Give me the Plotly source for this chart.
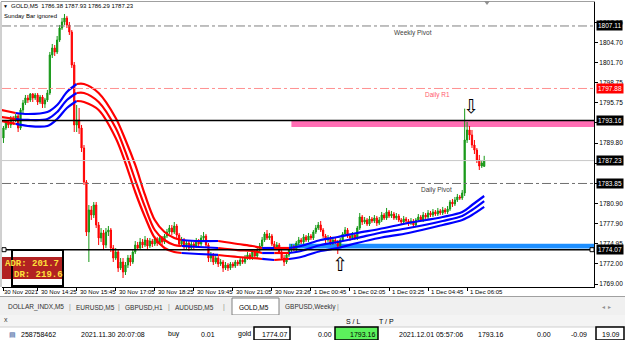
import plotly.graph_objects as go

W, H = 625, 340
def px(x): return x / W
def py(y): return 1 - y / H

FONT = "Liberation Sans, Arial"

# ---------------- data ----------------
bars = list(range(198))
opens = [1790.57,1792.04,1792.93,1792.49,1793.52,1793.08,1793.82,1792.04,1794.70,1795.74,
1796.48,1796.18,1797.07,1796.48,1796.92,1795.88,1796.62,1795.59,1796.18,1797.21,
1802.83,1803.86,1803.27,1805.04,1806.81,1807.70,1808.29,1807.26,1806.22,1801.35,
1792.49,1793.23,1792.04,1789.09,1784.07,1776.68,1779.93,1779.19,1780.67,1777.72,
1775.80,1776.54,1774.76,1776.68,1776.98,1774.32,1772.84,1773.73,1771.37,1772.25,
1770.78,1771.81,1772.84,1772.25,1773.73,1774.76,1774.32,1775.21,1774.76,1775.50,
1774.62,1775.35,1774.91,1775.65,1775.06,1775.80,1775.21,1776.09,1776.68,1777.27,
1776.68,1777.57,1776.24,1774.91,1775.50,1774.47,1775.06,1774.32,1774.91,1774.62,
1775.35,1774.91,1775.80,1776.09,1774.76,1772.84,1773.29,1772.25,1772.84,1771.96,
1772.25,1771.37,1771.81,1771.37,1771.96,1771.66,1772.25,1771.96,1772.55,1772.25,
1772.84,1773.29,1772.84,1773.73,1773.14,1774.02,1774.62,1775.50,1776.39,1775.80,
1776.09,1774.91,1774.32,1774.76,1773.73,1772.84,1772.25,1773.29,1774.02,1774.47,
1774.17,1775.06,1775.50,1775.21,1775.95,1775.50,1776.09,1775.80,1776.68,1777.27,
1777.72,1776.98,1776.09,1775.50,1775.80,1775.06,1775.50,1775.21,1774.62,1775.50,
1776.39,1776.98,1776.09,1775.80,1776.24,1775.80,1777.27,1778.90,1778.16,1778.46,
1777.87,1778.60,1778.31,1778.75,1778.01,1778.46,1779.19,1778.75,1779.64,1779.05,
1779.34,1778.75,1779.05,1778.46,1778.16,1778.60,1778.31,1778.01,1778.31,1777.72,
1778.46,1778.90,1778.46,1779.19,1778.90,1779.49,1779.19,1779.64,1779.34,1779.79,
1779.49,1779.93,1779.64,1780.08,1781.11,1780.82,1781.41,1781.85,1781.71,1782.44,
1790.27,1791.75,1791.01,1789.53,1788.79,1787.32,1786.43,1786.38]
highs = [1792.34,1793.23,1793.23,1793.82,1793.82,1794.11,1794.11,1795.00,1796.18,1796.92,
1796.92,1797.21,1797.21,1797.21,1797.21,1796.92,1796.92,1796.48,1797.66,1803.27,
1804.45,1804.30,1805.63,1807.26,1808.29,1808.88,1808.59,1807.70,1806.52,1801.79,
1795.44,1795.00,1792.49,1789.53,1784.36,1780.67,1780.52,1781.11,1781.11,1778.16,
1777.27,1776.98,1777.27,1777.57,1777.27,1774.76,1774.32,1774.02,1772.84,1772.84,
1772.25,1773.29,1773.29,1774.02,1775.35,1775.21,1775.80,1775.65,1776.09,1775.80,
1775.80,1775.65,1776.09,1775.95,1776.24,1776.09,1776.39,1777.13,1777.72,1777.72,
1778.16,1777.87,1776.54,1775.95,1775.80,1775.50,1775.35,1775.35,1775.21,1775.80,
1775.65,1776.24,1776.68,1776.39,1775.06,1773.73,1773.58,1773.29,1773.14,1772.70,
1772.55,1772.25,1772.10,1772.25,1772.25,1772.55,1772.55,1772.99,1772.84,1773.29,
1773.73,1773.58,1774.02,1774.02,1774.32,1775.06,1775.95,1776.68,1776.98,1776.54,
1776.39,1775.35,1775.21,1775.06,1774.02,1773.29,1773.73,1774.32,1774.91,1774.76,
1775.35,1775.95,1775.80,1776.39,1776.24,1776.54,1776.39,1776.98,1777.72,1778.16,
1778.31,1777.27,1776.39,1776.24,1776.09,1775.95,1775.80,1775.50,1775.80,1776.68,
1777.42,1777.27,1776.39,1776.68,1776.54,1777.57,1779.49,1779.19,1778.90,1778.75,
1779.05,1778.90,1779.19,1779.05,1778.90,1779.64,1779.49,1780.23,1779.93,1779.79,
1779.64,1779.49,1779.34,1778.75,1779.05,1778.90,1778.60,1778.75,1778.60,1778.75,
1779.34,1779.19,1779.64,1779.49,1779.93,1779.79,1780.08,1779.93,1780.23,1780.08,
1780.38,1780.23,1780.52,1781.41,1781.56,1781.85,1782.30,1782.15,1782.89,1794.90,
1792.93,1792.34,1791.75,1790.27,1789.09,1788.06,1787.32,1787.93]
lows = [1789.83,1791.75,1792.04,1792.04,1792.49,1792.93,1791.45,1791.75,1794.11,1795.44,
1795.74,1795.88,1795.88,1796.18,1795.44,1795.59,1795.00,1795.00,1795.88,1796.92,
1802.38,1802.68,1802.97,1804.75,1806.52,1807.26,1806.81,1805.78,1800.91,1791.45,
1791.45,1791.16,1788.50,1783.63,1776.09,1772.25,1778.46,1778.75,1777.27,1774.76,
1775.21,1774.02,1774.32,1776.09,1773.73,1772.25,1772.55,1770.78,1771.07,1769.89,
1770.33,1771.37,1771.66,1771.96,1773.43,1774.02,1774.02,1774.32,1774.47,1774.17,
1774.32,1774.47,1774.62,1774.62,1774.76,1774.76,1774.91,1775.80,1776.39,1776.24,
1776.39,1775.80,1774.47,1774.62,1774.02,1774.17,1773.88,1774.02,1774.17,1774.32,
1774.47,1774.62,1775.50,1774.32,1772.25,1772.25,1771.81,1771.96,1771.51,1771.66,
1770.78,1771.07,1770.92,1771.07,1771.37,1771.37,1771.66,1771.66,1771.96,1771.96,
1772.55,1772.55,1772.55,1772.84,1772.84,1773.73,1774.32,1775.21,1775.50,1775.50,
1774.62,1774.02,1774.02,1773.43,1772.55,1771.66,1771.96,1772.99,1773.73,1773.88,
1773.88,1774.76,1774.91,1774.91,1775.21,1775.21,1775.50,1775.50,1776.39,1776.98,
1776.68,1775.80,1775.06,1775.21,1774.76,1774.76,1774.91,1773.43,1774.32,1775.21,
1776.09,1775.80,1775.35,1775.50,1775.50,1775.50,1776.98,1777.72,1777.87,1777.57,
1777.57,1778.01,1778.01,1777.57,1777.72,1778.16,1778.46,1778.46,1778.75,1778.75,
1778.46,1778.46,1778.16,1777.72,1777.87,1778.01,1777.57,1777.72,1777.27,1777.42,
1778.16,1778.16,1778.16,1778.60,1778.60,1778.90,1778.90,1779.05,1779.05,1779.19,
1779.19,1779.34,1779.34,1779.79,1780.38,1780.52,1781.11,1781.41,1781.41,1782.00,
1789.83,1790.27,1789.09,1788.20,1786.87,1785.84,1786.14,1786.29]
closes = [1792.04,1792.93,1792.49,1793.52,1793.08,1793.82,1792.04,1794.70,1795.74,1796.48,
1796.18,1797.07,1796.48,1796.92,1795.88,1796.62,1795.59,1796.18,1797.21,1802.83,
1803.86,1803.27,1805.04,1806.81,1807.70,1808.29,1807.26,1806.22,1801.35,1792.49,
1793.23,1792.04,1789.09,1784.07,1776.68,1779.93,1779.19,1780.67,1777.72,1775.80,
1776.54,1774.76,1776.68,1776.98,1774.32,1772.84,1773.73,1771.37,1772.25,1770.78,
1771.81,1772.84,1772.25,1773.73,1774.76,1774.32,1775.21,1774.76,1775.50,1774.62,
1775.35,1774.91,1775.65,1775.06,1775.80,1775.21,1776.09,1776.68,1777.27,1776.68,
1777.57,1776.24,1774.91,1775.50,1774.47,1775.06,1774.32,1774.91,1774.62,1775.35,
1774.91,1775.80,1776.09,1774.76,1772.84,1773.29,1772.25,1772.84,1771.96,1772.25,
1771.37,1771.81,1771.37,1771.96,1771.66,1772.25,1771.96,1772.55,1772.25,1772.84,
1773.29,1772.84,1773.73,1773.14,1774.02,1774.62,1775.50,1776.39,1775.80,1776.09,
1774.91,1774.32,1774.76,1773.73,1772.84,1772.25,1773.29,1774.02,1774.47,1774.17,
1775.06,1775.50,1775.21,1775.95,1775.50,1776.09,1775.80,1776.68,1777.27,1777.72,
1776.98,1776.09,1775.50,1775.80,1775.06,1775.50,1775.21,1774.62,1775.50,1776.39,
1776.98,1776.09,1775.80,1776.24,1775.80,1777.27,1778.90,1778.16,1778.46,1777.87,
1778.60,1778.31,1778.75,1778.01,1778.46,1779.19,1778.75,1779.64,1779.05,1779.34,
1778.75,1779.05,1778.46,1778.16,1778.60,1778.31,1778.01,1778.31,1777.72,1778.46,
1778.90,1778.46,1779.19,1778.90,1779.49,1779.19,1779.64,1779.34,1779.79,1779.49,
1779.93,1779.64,1780.08,1781.11,1780.82,1781.41,1781.85,1781.71,1782.44,1790.27,
1791.75,1791.01,1789.53,1788.79,1787.32,1786.43,1786.87,1787.23]

ma_idx = [-1, 5, 10, 18, 22, 26, 30, 33, 39, 46, 50, 54, 58, 62, 66, 70, 73, 80, 88,
          96, 102, 106, 111, 117, 122, 130, 137, 145, 154, 166, 180, 188, 192, 197]
ma_upper = [1794.70,1794.26,1794.11,1794.41,1795.44,1797.36,1798.54,1798.54,1797.21,1793.52,
            1790.27,1786.58,1782.15,1778.46,1776.68,1775.80,1775.50,1775.35,1775.35,
            1774.91,1774.62,1774.32,1774.32,1774.32,1774.62,1775.50,1775.95,1776.54,1777.13,
            1778.01,1778.90,1779.64,1780.67,1782.00]
ma_mid = [1793.67,1793.37,1793.23,1793.37,1794.41,1796.18,1797.21,1797.21,1795.88,1792.04,
          1788.50,1784.36,1780.38,1776.98,1775.50,1774.76,1774.62,1774.47,1774.32,
          1774.02,1773.88,1773.58,1773.58,1773.58,1773.88,1774.76,1775.21,1775.80,1776.54,
          1777.27,1778.31,1779.05,1779.93,1781.26]
ma_lower = [1793.08,1792.64,1792.34,1792.34,1793.37,1795.00,1796.03,1795.88,1794.70,1790.57,
            1786.87,1782.59,1778.90,1775.80,1774.32,1773.73,1773.58,1773.43,1773.29,
            1772.99,1772.84,1772.70,1772.55,1772.70,1772.99,1773.88,1774.32,1775.06,1775.80,
            1776.54,1777.72,1778.46,1779.19,1780.38]
ma_segments = [(-1, 5, "#ff0000"), (5, 30, "#0000ff"), (30, 73, "#ff0000"), (73, 88, "#0000ff"),
               (88, 106, "#ff0000"), (106, 111, "#0000ff"), (111, 117, "#ff0000"), (117, 197, "#0000ff")]

time_idx = [0, 14, 30, 46, 62, 78, 94, 110, 126, 142, 158, 174, 190]
time_labels = ["30 Nov 2021", "30 Nov 14:25", "30 Nov 15:45", "30 Nov 17:05", "30 Nov 18:25",
               "30 Nov 19:45", "30 Nov 21:05", "30 Nov 23:26", "1 Dec 00:45", "1 Dec 02:05",
               "1 Dec 03:25", "1 Dec 04:45", "1 Dec 06:05"]
price_ticks = [1769.00, 1772.00, 1774.95, 1777.90, 1780.90, 1783.85, 1786.85, 1789.80,
               1792.80, 1795.75, 1798.75, 1801.70, 1804.70, 1807.65]

weekly_pivot = 1807.11
daily_r1 = 1797.88
take_profit = 1793.16
bid_price = 1787.23
daily_pivot = 1783.85
open_price = 1774.07
tp_zone = (1792.20, 1793.10)
entry_zone = (1774.25, 1774.95)
zone_start = 118
tp_arrow = (191.5, 1795.3)
entry_arrow = (138, 1771.9)
adr, dr = 201.7, 219.6
header_ohlc = [1786.38, 1787.93, 1786.29, 1787.23]

y_range = [1768.56, 1810.65]
x_range = [-0.6, 242]

# ---------------- figure ----------------
fig = go.Figure()
fig.add_trace(go.Candlestick(
    x=bars, open=opens, high=highs, low=lows, close=closes,
    increasing=dict(line=dict(color="#169816", width=1), fillcolor="#169816"),
    decreasing=dict(line=dict(color="#ff0000", width=1), fillcolor="#ff0000"),
    whiskerwidth=0, showlegend=False, hoverinfo="skip"))

for line in (ma_upper, ma_mid, ma_lower):
    for a, b, col in ma_segments:
        xs = [i for i in ma_idx if a <= i <= b]
        ys = [line[ma_idx.index(i)] for i in xs]
        fig.add_trace(go.Scatter(x=xs, y=ys, mode="lines", showlegend=False, hoverinfo="skip",
                                 line=dict(color=col, width=2.2, shape="spline", smoothing=0.9)))

shapes = []
X0, X1 = px(2), px(594)
def hline(val, color, dash="solid", width=1):
    shapes.append(dict(type="line", xref="paper", yref="y", x0=X0, x1=X1, y0=val, y1=val,
                       line=dict(color=color, width=width, dash=dash), layer="above"))

# zones
shapes.append(dict(type="rect", xref="x", yref="y", x0=zone_start, x1=x_range[1],
                   y0=tp_zone[0], y1=tp_zone[1], fillcolor="#ff6eb4", line=dict(width=0), layer="below"))
shapes.append(dict(type="rect", xref="x", yref="y", x0=zone_start - 1, x1=x_range[1],
                   y0=entry_zone[0], y1=entry_zone[1], fillcolor="#1e8fff", line=dict(width=0), layer="below"))

hline(weekly_pivot, "#808080", "dashdot")
hline(daily_r1, "#ff9090", "dashdot")
hline(take_profit, "#000000", "solid", 1.5)
hline(bid_price, "#c8c8c8", "solid")
hline(daily_pivot, "#707070", "dashdot")
hline(open_price, "#000000", "solid", 1.5)

# small squares at ends of the order line
for xx in (4, 592):
    shapes.append(dict(type="rect", xref="paper", yref="y", ysizemode="pixel", yanchor=open_price,
                       x0=px(xx - 2), x1=px(xx + 2), y0=-2, y1=2,
                       line=dict(color="black", width=1), fillcolor="white"))

# frame: left and top borders
shapes.append(dict(type="line", xref="paper", yref="paper", x0=px(1), x1=px(1), y0=py(287), y1=py(2),
                   line=dict(color="#a0a0a0", width=1)))
shapes.append(dict(type="line", xref="paper", yref="paper", x0=px(1), x1=px(595), y0=py(1.5), y1=py(1.5),
                   line=dict(color="#a0a0a0", width=1)))

# ADR box
shapes.append(dict(type="rect", xref="paper", yref="paper", x0=px(2), x1=px(62), y0=py(279), y1=py(257),
                   fillcolor="#b22222", line=dict(width=0)))
shapes.append(dict(type="rect", xref="paper", yref="paper", x0=px(12), x1=px(63), y0=py(286), y1=py(250),
                   fillcolor="rgba(0,0,0,0)", line=dict(color="black", width=2)))

# bottom panel backgrounds
shapes.append(dict(type="rect", xref="paper", yref="paper", x0=0, x1=1, y0=py(315), y1=py(297),
                   fillcolor="#f0f0f0", line=dict(width=0)))
shapes.append(dict(type="line", xref="paper", yref="paper", x0=0, x1=1, y0=py(296.5), y1=py(296.5),
                   line=dict(color="#a0a0a0", width=1)))
shapes.append(dict(type="rect", xref="paper", yref="paper", x0=px(232), x1=px(279), y0=py(315), y1=py(298),
                   fillcolor="white", line=dict(color="#808080", width=1)))
shapes.append(dict(type="rect", xref="paper", yref="paper", x0=0, x1=1, y0=py(327), y1=py(315),
                   fillcolor="#f4f4f4", line=dict(width=0)))
shapes.append(dict(type="line", xref="paper", yref="paper", x0=0, x1=1, y0=py(327), y1=py(327),
                   line=dict(color="#d0d0d0", width=1)))
# table boxes
shapes.append(dict(type="rect", xref="paper", yref="paper", x0=px(254), x1=px(290), y0=py(340), y1=py(327),
                   fillcolor="white", line=dict(color="black", width=1.5)))
shapes.append(dict(type="rect", xref="paper", yref="paper", x0=px(335), x1=px(378), y0=py(340), y1=py(327),
                   fillcolor="#5cf25c", line=dict(color="black", width=1.5)))
shapes.append(dict(type="rect", xref="paper", yref="paper", x0=px(596), x1=px(624), y0=py(340), y1=py(327),
                   fillcolor="white", line=dict(color="black", width=1.5)))
# chart-shift marker
shapes.append(dict(type="path", xref="paper", yref="paper",
                   path=f"M {px(484)} {py(1)} L {px(490)} {py(1)} L {px(487)} {py(5)} Z",
                   fillcolor="#909090", line=dict(width=0)))

ann = []
def txt(x, y, s, size=7, color="black", anchor="left", family=FONT, bg=None):
    d = dict(x=px(x), y=py(y), xref="paper", yref="paper", text=s, showarrow=False,
             xanchor=anchor, yanchor="middle", font=dict(size=size, color=color, family=family),
             borderpad=0)
    if bg:
        d["bgcolor"] = bg
    ann.append(d)

# header
txt(2, 6, "\u25bc", size=5)
txt(10, 6, "GOLD,M5  " + " ".join(f"{v:.2f}" for v in header_ohlc), size=6)
txt(3, 16, "Sunday Bar ignored", size=6)

# level labels on chart
ann.append(dict(x=px(392), y=weekly_pivot, xref="paper", yref="y", text="Weekly Pivot", showarrow=False,
                xanchor="left", yanchor="top", yshift=-1, font=dict(size=6.5, color="#404040", family=FONT)))
ann.append(dict(x=px(423), y=daily_r1, xref="paper", yref="y", text="Daily R1", showarrow=False,
                xanchor="left", yanchor="top", yshift=-1, font=dict(size=6.5, color="#ff5a6e", family=FONT)))
ann.append(dict(x=px(419), y=daily_pivot, xref="paper", yref="y", text="Daily Pivot", showarrow=False,
                xanchor="left", yanchor="top", yshift=-1, font=dict(size=6.5, color="#404040", family=FONT)))

# price boxes on the right axis
for val, bg in [(weekly_pivot, "black"), (daily_r1, "#ff0000"), (take_profit, "black"),
                (bid_price, "black"), (daily_pivot, "black"), (open_price, "black")]:
    ann.append(dict(x=px(596), y=val, xref="paper", yref="y", text=f"{val:.2f}", showarrow=False,
                    xanchor="left", yanchor="middle", bgcolor=bg, borderpad=1,
                    font=dict(size=6.5, color="white", family=FONT)))

# arrows
ann.append(dict(x=tp_arrow[0], y=tp_arrow[1], xref="x", yref="y", text="\u21e9", showarrow=False,
                font=dict(size=19, color="black", family="DejaVu Sans")))
ann.append(dict(x=entry_arrow[0], y=entry_arrow[1], xref="x", yref="y", text="\u21e7", showarrow=False,
                font=dict(size=19, color="black", family="DejaVu Sans")))

# ADR
txt(4, 264, f"<b>ADR: {adr}</b>", size=9, color="#ffe23a", family="Liberation Mono")
txt(13, 275, f"<b>DR: {dr}</b>", size=9, color="#ffe23a", family="Liberation Mono")

# time labels
for i, lab in zip(time_idx, time_labels):
    ann.append(dict(x=i, y=py(292), xref="x", yref="paper", text=lab, showarrow=False,
                    xanchor="left", yanchor="middle", xshift=-1 if i == 0 else 1,
                    font=dict(size=6, color="black", family=FONT)))

# tabs
tab_names = ["DOLLAR_INDX,M5", "EURUSD,M5", "GBPUSD,H1", "AUDUSD,M5", "GOLD,M5", "GBPUSD,Weekly"]
tab_x = [7, 75, 124, 174, 238, 284]
for name, xx in zip(tab_names, tab_x):
    txt(xx, 307, name, size=6.5, color="black" if name == "GOLD,M5" else "#303030")
for xx in (68, 117, 167, 222, 336):
    txt(xx, 307, "|", size=7, color="#909090")
txt(601, 307, "\u25c2  \u25b8", size=6, color="#909090")

# table header & row
txt(3, 319, "x", size=7, color="#404040")
txt(345, 321, "S / L", size=7)
txt(378, 321, "T / P", size=7)
txt(8, 334, "\u25a4", size=7, color="#4060a0")
row = [(20, "258758462", "left"), (80, "2021.11.30 20:07:08", "left"), (181, "buy", "right"),
       (216, "0.01", "right"), (252, "gold", "right"), (288, "1774.07", "right"),
       (333, "0.00", "right"), (376, "1793.16", "right"), (398, "2021.12.01 05:57:06", "left"),
       (504, "1793.16", "right"), (552, "0.00", "right"), (588, "-0.09", "right"),
       (621, "19.09", "right")]
for xx, s, a in row:
    txt(xx, 334, s, size=7, anchor=a)

fig.update_layout(
    width=W, height=H, margin=dict(l=0, r=0, t=0, b=0),
    paper_bgcolor="white", plot_bgcolor="white", showlegend=False,
    shapes=shapes, annotations=ann,
    xaxis=dict(domain=[px(2), px(594)], range=x_range, rangeslider=dict(visible=False),
               showgrid=False, zeroline=False, showticklabels=False, ticks="outside", ticklen=3,
               tickcolor="black", tickvals=time_idx, showline=True, linecolor="black", linewidth=1),
    yaxis=dict(domain=[py(287), py(2)], range=y_range, side="right", showgrid=False, zeroline=False,
               ticks="outside", ticklen=3, tickcolor="black", tickvals=price_ticks,
               ticktext=[f"{v:.2f}" for v in price_ticks],
               tickfont=dict(size=6.5, color="black", family=FONT),
               showline=True, linecolor="black", linewidth=1),
)

fig.write_html("out.html")
